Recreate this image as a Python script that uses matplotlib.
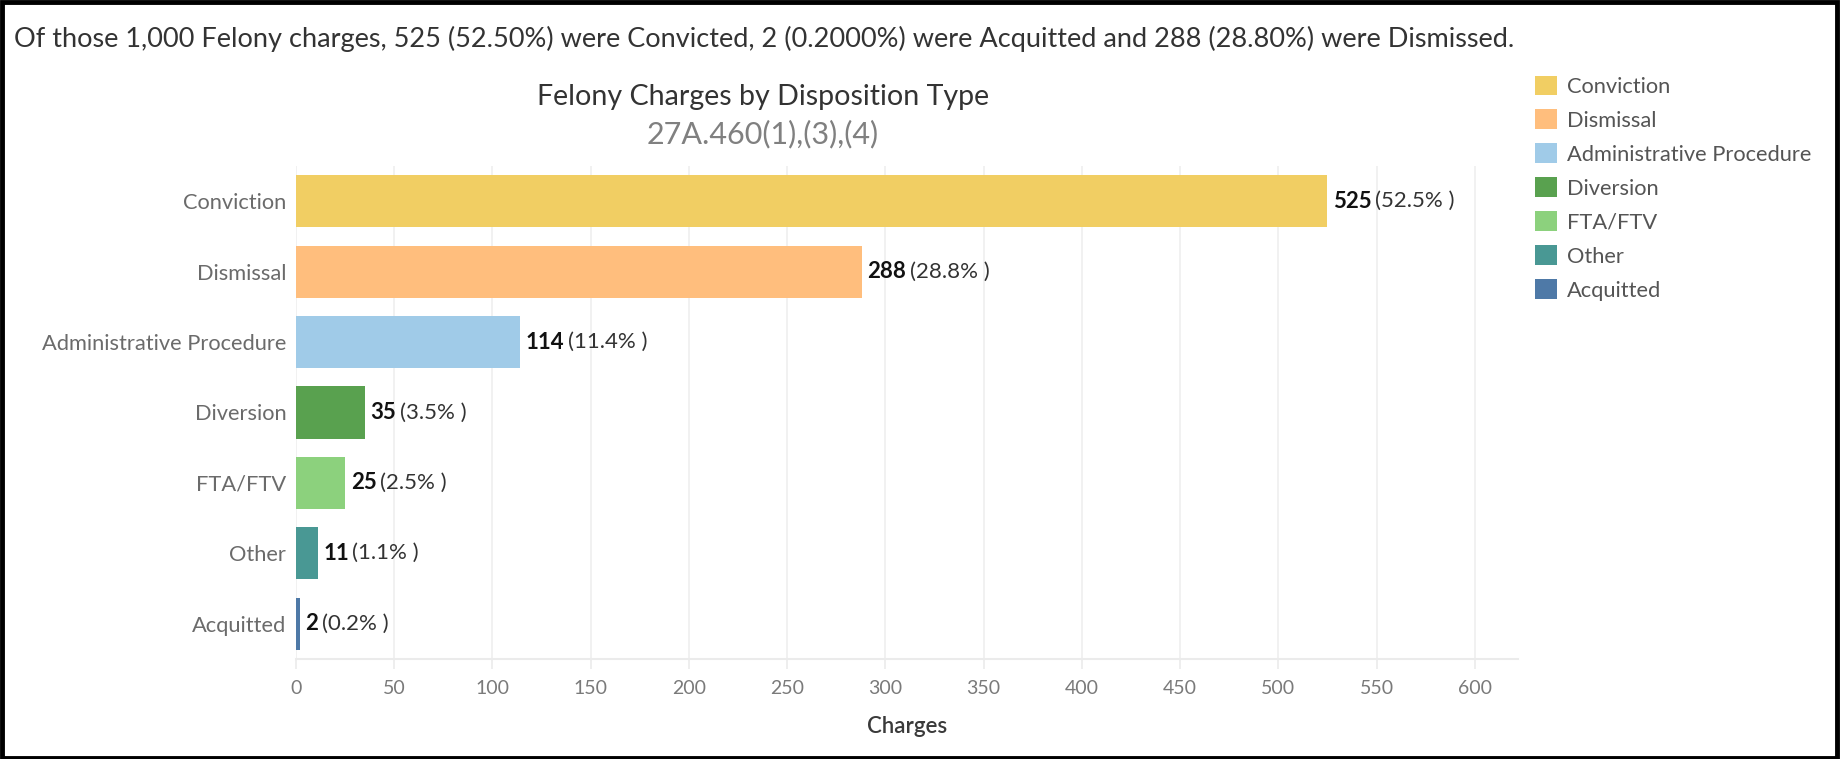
import matplotlib
matplotlib.use("Agg")
import matplotlib.pyplot as plt
from matplotlib.patches import Patch, Rectangle

# -----------------------------
# Datos
# -----------------------------
categorias = ["Conviction", "Dismissal", "Administrative Procedure", "Diversion",
              "FTA/FTV", "Other", "Acquitted"]
cargos = [525, 288, 114, 35, 25, 11, 2]
total = 1000
colores = ["#F1CE63", "#FFBE7D", "#A0CBE8", "#59A14F", "#8CD17D", "#499894", "#4E79A7"]
ticks_x = [0, 50, 100, 150, 200, 250, 300, 350, 400, 450, 500, 550, 600]

encabezado = ("Of those 1,000 Felony charges, 525 (52.50%) were Convicted, "
              "2 (0.2000%) were Acquitted and 288 (28.80%) were Dismissed.")
titulo = "Felony Charges by Disposition Type"
subtitulo = "27A.460(1),(3),(4)"

plt.rcParams["font.family"] = ["Lato", "DejaVu Sans"]

# -----------------------------
# Figura
# -----------------------------
fig = plt.figure(figsize=(18.43, 7.59), dpi=100)
ax = fig.add_axes([0.1606, 0.1318, 0.8237 - 0.1606, 0.7813 - 0.1318])

pos = list(range(len(categorias)))
ax.barh(pos, cargos, height=0.74, color=colores, zorder=3)
ax.set_ylim(len(categorias) - 0.5, -0.5)
ax.set_xlim(0, 622)

ax.set_yticks(pos)
ax.set_yticklabels(categorias, fontsize=15.75, color="#6b6b6b")
ax.set_xticks(ticks_x)
ax.tick_params(axis="x", labelsize=14, labelcolor="#7a7a7a", color="#ebebeb",
               length=7, width=1.2, pad=8)
ax.tick_params(axis="y", length=0, pad=7)
ax.grid(axis="x", color="#efefef", linewidth=1.2, zorder=0)
for lado in ["top", "right", "left"]:
    ax.spines[lado].set_visible(False)
ax.spines["bottom"].set_color("#ebebeb")
ax.spines["bottom"].set_linewidth(1.5)
ax.set_xlabel("Charges", fontsize=16, color="#3a3a3a", fontweight="semibold", labelpad=14)

# etiquetas de valor: número en negrita + porcentaje
for i, v in enumerate(cargos):
    t = ax.annotate(str(v), xy=(v, i), xytext=(4, 0), textcoords="offset points",
                    va="center", ha="left", fontsize=16, fontweight="bold", color="#111111")
    ax.annotate(f"({v / total * 100:.1f}% )", xy=(1, 0.5), xycoords=t,
                xytext=(2.5, 0), textcoords="offset points",
                va="center", ha="left", fontsize=16, color="#333333")

# textos superiores
fig.text(0.0076, 1 - 39 / 759, encabezado, fontsize=19.5, color="#333333", va="center", ha="left")
fig.text(763 / 1843, 1 - 97 / 759, titulo, fontsize=20.6, color="#333333", va="center", ha="center")
fig.text(763 / 1843, 1 - 134 / 759, subtitulo, fontsize=22, color="#808080", va="center", ha="center")

# leyenda
manijas = [Patch(facecolor=c, edgecolor="none") for c in colores]
fig.legend(manijas, categorias, loc="upper left", bbox_to_anchor=(1535 / 1843, 1 - 75.5 / 759),
           frameon=False, fontsize=15.75, labelcolor="#555555", handlelength=1.0, handleheight=1.0,
           handletextpad=0.45, labelspacing=0.58, borderaxespad=0, borderpad=0)

# marco
fig.add_artist(Rectangle((0.001, 0.001), 1836.5 / 1843 - 0.001, 0.9965,
                         transform=fig.transFigure, fill=False, edgecolor="black", linewidth=3.5))

fig.savefig("out.png", dpi=100)
